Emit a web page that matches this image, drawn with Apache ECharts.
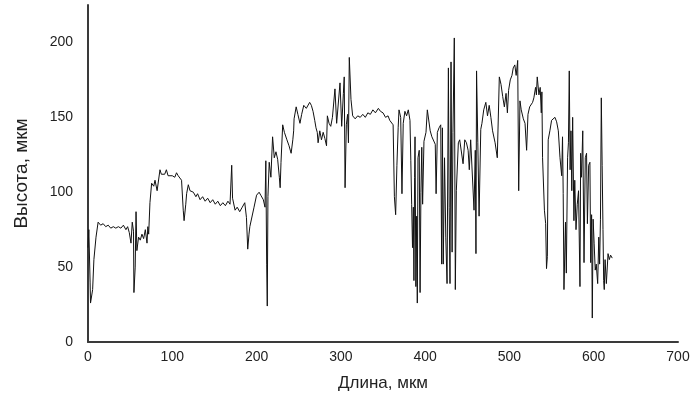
<!DOCTYPE html>
<html>
<head>
<meta charset="utf-8">
<script src="https://cdn.jsdelivr.net/npm/echarts@6/dist/echarts.min.js"></script>
<style>html,body{margin:0;padding:0;background:#fff}#c{width:694px;height:409px}</style>
</head>
<body>
<div id="c"></div>
<script>
var xTicks = [0, 100, 200, 300, 400, 500, 600, 700];
var yTicks = [0, 50, 100, 150, 200];
var xValues = [0,1,2.5,3,5.5,7,9.5,12,15,18,21,24,27,30,33,36,39,42,45,47,49,51,52.5,54,54.5,56,57,58,60,62,64,66,68,70,71,72,73.5,75.5,78,79.5,82,85.4,87,89,91,93,95,97,100,103,105,107,109,111,113,114,116,117,119,121,123,125,128,130,133,136,139,142,145,148,151,154,157,160,163,166,168.5,170.5,171.5,174.5,177,180,183,186,188,189.5,191,192,194,197,200,203,205,208,210,211,212,212.7,213.5,215,217,219,221,223,225,227,228,229,231,233,236,238.5,241,243,244,244.5,247,249,251.5,253.5,256,259,263,265,267,269,270.5,272,273,275,277,279,281,283,284,286,288,290,293,295,297,299,301,303,304,305,306.5,308,309,310,312,314,317,320,323,326,329,332,335,338,341,344.5,347,350,353,356,358,360,362,363.5,365,366.5,368,369,371,372.5,374,376,378,380,382,383,384,385,386,386.7,387.5,388,389,390,390.7,391.5,393,394,395,396,397,398.6,401,402.6,404,406,408,410,412,413,414.5,416.5,418.5,419.6,420.5,421.5,423,424.5,426,427.6,428.5,429.5,430.7,432,433,434.6,435.8,437,439.4,441,443,445,447,449,451,452.4,454,456,458,459.5,460.3,461,462.5,464,466,467.4,469.5,472,474,476,478,480,483,485.6,488,490,492,494,496,497.6,499,501,503,504.5,506.4,508,509.8,511,512.5,514,516.5,518.5,520.4,522,524,526,527.5,529,531,532,533,535,536.5,537.8,538.5,539.3,541.5,543,544,545,546,548,550,552,554,556,558,560,562,563,563.8,564.7,566.5,567.5,569,570,571,572,573,574,575,576.5,577.5,579,580.5,582,583.7,584.5,585.5,587,588.5,590,591.5,592.5,594,595.5,596.4,597.5,598.3,599.3,600.5,601.8,603,604.7,606,607,608,609,610,611,611.8,612.5,613.5,615,617,618.5,620,622];
var heightValues = [63,75,40,26,35,55,70,80,78,79,77,78,76,77,76,77,76,78,75,77,73,66,80,74,33,50,87,61,70,68,72,69,75,66,77,72,93,106,104,108,101,115,112,113,112,115,111,110,111,110,113,111,110,108,88,81,92,99,105,101,102,100,97,99,95,97,94,96,93,95,92,94,91,93,91,94,92,118,96,88,90,87,90,93,83,62,72,77,76,90,98,100,98,95,90,121,52,24,97,120,110,137,123,127,122,110,103,120,145,140,135,131,126,135,141,149,157,152,146,152,158,156,160,158,154,148,143,140,133,141,135,140,136,131,151,146,144,150,169,146,145,173,144,166,177,103,145,152,133,190,162,151,149,151,150,152,150,153,152,155,153,156,154,153,150,151,148,149,145,97,85,118,143,155,150,99,146,154,151,155,148,121,92,63,90,41,110,137,37,84,26,123,128,33,100,130,92,134,140,155,156,141,137,136,132,99,140,143,145,52,143,52,123,70,39,183,90,39,187,60,140,203,35,101,133,135,136,119,135,133,128,115,135,135,88,128,59,181,133,84,142,146,155,160,151,158,150,141,133,123,177,172,164,157,166,153,168,175,178,183,185,178,188,101,161,155,149,146,128,152,157,157,160,163,170,165,177,165,170,153,167,123,88,79,49,57,135,141,148,147,150,147,141,123,111,137,99,35,80,46,123,133,181,115,141,101,150,81,108,75,92,101,37,126,110,141,53,123,126,79,118,120,53,85,16,82,66,48,52,39,70,52,82,163,118,75,41,35,55,39,59,55,58,56];

var points = xValues.map(function (x, i) { return [x, heightValues[i]]; });

var chart = echarts.init(document.getElementById('c'), null, {renderer: 'canvas'});
var fontFam = '"Liberation Sans", Arial, sans-serif';
chart.setOption({
  animation: false,
  backgroundColor: '#fff',
  grid: {left: 88, right: 16, top: 5, bottom: 67, containLabel: false},
  xAxis: {
    type: 'value', min: 0, max: 700, interval: 100,
    name: 'Длина, мкм', nameLocation: 'middle', nameGap: 33,
    nameTextStyle: {fontFamily: fontFam, fontSize: 17, color: '#222'},
    axisLine: {show: true, onZero: false, lineStyle: {color: '#3a3a3a', width: 2}},
    axisTick: {show: false},
    splitLine: {show: false},
    axisLabel: {fontFamily: fontFam, fontSize: 14, color: '#222', margin: 8,
      formatter: function (v) { return xTicks.indexOf(v) >= 0 ? String(v) : ''; }}
  },
  yAxis: {
    type: 'value', min: 0, max: 225, interval: 50,
    name: 'Высота, мкм', nameLocation: 'middle', nameGap: 57,
    nameTextStyle: {fontFamily: fontFam, fontSize: 19, color: '#222'},
    axisLine: {show: true, lineStyle: {color: '#3a3a3a', width: 2}},
    axisTick: {show: false},
    splitLine: {show: false},
    axisLabel: {fontFamily: fontFam, fontSize: 14, color: '#222', margin: 15, showMaxLabel: false,
      formatter: function (v) { return yTicks.indexOf(v) >= 0 ? String(v) : ''; }}
  },
  series: [{
    type: 'line', data: points, showSymbol: false, symbol: 'none',
    lineStyle: {color: '#111', width: 1}
  }]
});
</script>
</body>
</html>
